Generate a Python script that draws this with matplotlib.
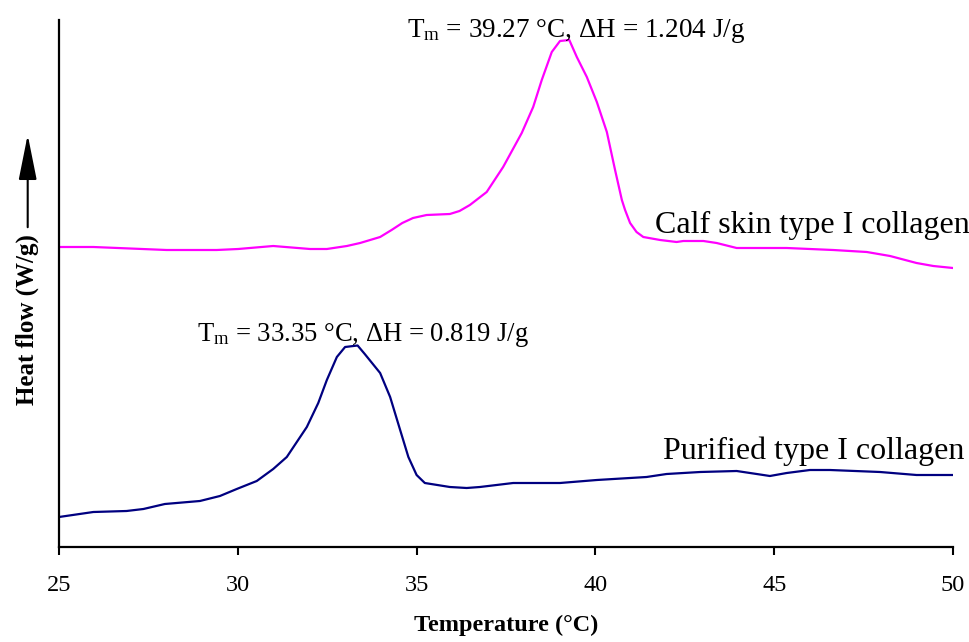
import matplotlib
matplotlib.use("Agg")
import matplotlib.pyplot as plt

plt.rcParams['font.family'] = ['Liberation Serif', 'DejaVu Serif']
plt.rcParams['mathtext.default'] = 'regular'

# DSC thermograms, heat flow in arbitrary offset units
temp_calf = [25.0, 25.96, 28.01, 29.41, 30.01, 30.99, 32.02, 32.49, 33.05, 33.42,
             33.98, 34.3, 34.6, 34.9, 35.28, 35.93, 36.2, 36.49, 36.96, 37.42, 37.94, 38.26,
             38.50, 38.78, 39.01, 39.27, 39.48, 39.76, 40.04, 40.32, 40.55, 40.74,
             40.83, 40.97, 41.15, 41.34, 41.81, 42.27, 42.46, 43.02, 43.39, 43.95, 45.35,
             46.65, 47.59, 48.24, 48.98, 49.45, 50.0]
flow_calf = [3.00, 3.00, 2.97, 2.97, 2.98, 3.01, 2.98, 2.98, 3.01, 3.04,
             3.10, 3.17, 3.24, 3.29, 3.32, 3.33, 3.36, 3.42, 3.55, 3.80, 4.14, 4.40,
             4.67, 4.95, 5.06, 5.07, 4.90, 4.70, 4.45, 4.15, 3.77, 3.47,
             3.37, 3.24, 3.15, 3.10, 3.07, 3.05, 3.06, 3.06, 3.04, 2.99, 2.99,
             2.97, 2.95, 2.91, 2.84, 2.81, 2.79]

temp_pur = [25.0, 25.96, 26.89, 27.36, 27.96, 28.94, 29.50, 29.97, 30.53, 30.99,
            31.37, 31.93, 32.25, 32.49, 32.77, 33.0, 33.35, 33.55, 33.98, 34.26,
            34.54, 34.77, 35.00, 35.23, 35.93, 36.40, 36.77, 37.70, 39.01, 40.04,
            41.43, 41.99, 42.93, 43.95, 44.51, 44.88, 45.35, 46.00, 46.56, 47.96,
            48.98, 50.0]
flow_pur = [0.30, 0.35, 0.36, 0.38, 0.43, 0.46, 0.51, 0.58, 0.66, 0.78,
            0.90, 1.20, 1.44, 1.67, 1.90, 2.00, 2.015, 1.93, 1.74, 1.50,
            1.17, 0.90, 0.72, 0.64, 0.60, 0.59, 0.60, 0.64, 0.64, 0.67,
            0.70, 0.73, 0.75, 0.76, 0.73, 0.71, 0.74, 0.77, 0.77, 0.75,
            0.72, 0.72]

tm_calf, dh_calf = 39.27, 1.204
tm_pur, dh_pur = 33.35, 0.819
xticks = [25, 30, 35, 40, 45, 50]

fig = plt.figure(figsize=(9.7, 6.42), dpi=100)
ax = fig.add_axes([59/970, 95/642, 894/970, 527/642])

ax.plot(temp_calf, flow_calf, color='#FF00FF', lw=1.6)
ax.plot(temp_pur, flow_pur, color='#000080', lw=1.6)

ax.set_xlim(25, 50)
ax.set_ylim(0, 5.27)
ax.set_xticks(xticks)
ax.set_yticks([])
ax.tick_params(axis='x', direction='out', length=6, width=1.5, pad=14, labelsize=17.5)
for s in ['top', 'right']:
    ax.spines[s].set_visible(False)
for s in ['left', 'bottom']:
    ax.spines[s].set_linewidth(1.6)

ax.set_xlabel('Temperature (°C)', fontsize=17.5, fontweight='bold', labelpad=14)

# peak annotations
ax.text(34.72, 5.10, r'T$_{m}$ = %.2f °C, ΔH = %.3f J/g' % (tm_calf, dh_calf),
        fontsize=19.5, va='baseline', ha='left')
ax.text(28.87, 2.063, r'T$_{m}$ = %.2f °C, ΔH = %.3f J/g' % (tm_pur, dh_pur),
        fontsize=19.2, va='baseline', ha='left')

ax.text(41.67, 3.137, 'Calf skin type I collagen', fontsize=23, va='baseline', ha='left')
ax.text(41.90, 0.877, 'Purified type I collagen', fontsize=23, va='baseline', ha='left')

# y label with upward arrow
fig.text(27/970, 1 - 320/642, 'Heat flow (W/g)', rotation=90, fontsize=18,
         fontweight='bold', ha='center', va='center')
fig.add_artist(matplotlib.patches.FancyArrowPatch(
    (27.7/970, 1 - 230/642), (27.7/970, 1 - 132/642), transform=fig.transFigure,
    arrowstyle='-|>,head_length=1.4,head_width=0.28', mutation_scale=20,
    color='black', lw=1.5))

fig.savefig('out.png', dpi=100)
